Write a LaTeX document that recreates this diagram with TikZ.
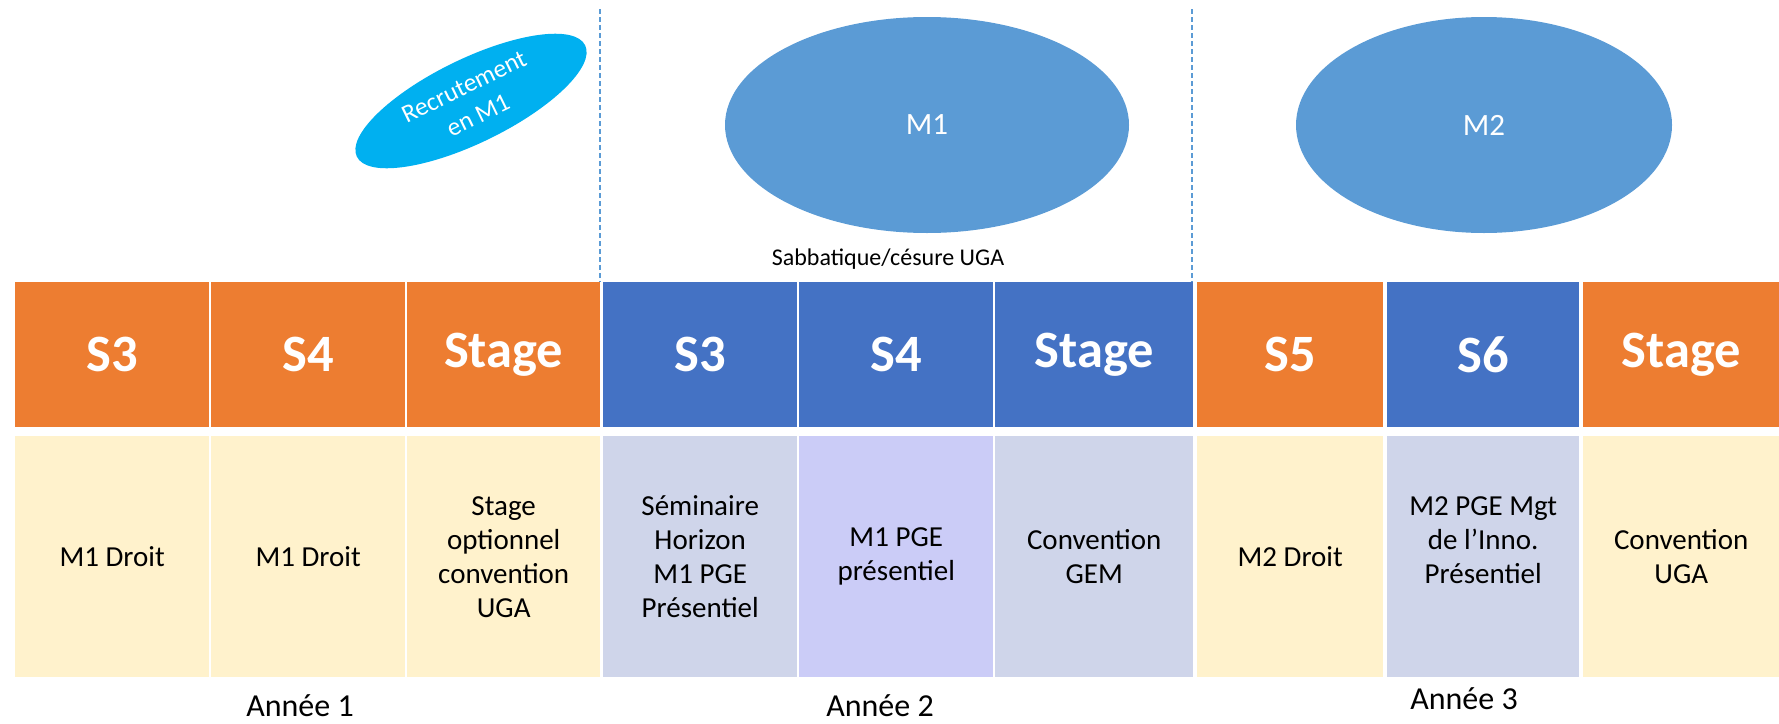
\documentclass[tikz,border=0pt]{standalone}
\usepackage{fontspec}
\setmainfont{Carlito}
\usetikzlibrary{shapes.geometric}
\definecolor{orng}{HTML}{ED7D31}
\definecolor{blu}{HTML}{4472C4}
\definecolor{yel}{HTML}{FFF2CC}
\definecolor{gry}{HTML}{CFD5EA}
\definecolor{lav}{HTML}{CBCCF7}
\definecolor{ell}{HTML}{5B9BD5}
\definecolor{cyanb}{HTML}{00B0F0}
\begin{document}
\begin{tikzpicture}[x=1pt,y=-1pt,
  sem/.style={rectangle, inner sep=0pt, anchor=north west, minimum height=145pt, text=white, font=\fontsize{52.5}{60}\selectfont\bfseries},
  cnt/.style={rectangle, inner sep=0pt, anchor=north west, minimum height=241pt, align=center, text=black, font=\fontsize{29}{34}\selectfont},
  yearlbl/.style={inner sep=0pt, text=black, font=\fontsize{32}{36}\selectfont},
  bigell/.style={ellipse, fill=ell, inner sep=0pt, text=white, font=\fontsize{31}{36}\selectfont},
  sepline/.style={draw=ell, line width=1.2pt, dash pattern=on 5pt off 3pt}]
\useasboundingbox (0,0) rectangle (1779,723);

% dashed separators
\coordinate (d1a) at (600,9);
\coordinate (d1b) at (600,282);
\coordinate (d2a) at (1192,9);
\coordinate (d2b) at (1192,282);
\draw[sepline] (d1a) -- (d1b);
\draw[sepline] (d2a) -- (d2b);

% ellipses
\node[ellipse, fill=cyanb, minimum width=254pt, minimum height=84pt, inner sep=0pt,
      rotate=26, text=white, align=center, font=\fontsize{25.5}{32}\selectfont] (rec) at (471,101) {Recrutement\\en M1};
\node[bigell, minimum width=404pt, minimum height=216pt] (m1) at (927,125) {M1};
\node[bigell, minimum width=376pt, minimum height=216pt] (m2) at (1484,125) {M2};
\node[inner sep=0pt, text=black, font=\fontsize{24}{29}\selectfont] (sab) at (888,259) {Sabbatique/césure UGA};

% top row
\node[sem, fill=orng, minimum width=194pt] (t1) at (15,282) {S3};
\node[sem, fill=orng, minimum width=194pt] (t2) at (211,282) {S4};
\node[sem, fill=orng, minimum width=193pt] (t3) at (407,282) {Stage};
\node[sem, fill=blu, minimum width=194pt] (t4) at (603,282) {S3};
\node[sem, fill=blu, minimum width=194pt] (t5) at (799,282) {S4};
\node[sem, fill=blu, minimum width=198pt] (t6) at (995,282) {Stage};
\node[sem, fill=orng, minimum width=186pt] (t7) at (1197,282) {S5};
\node[sem, fill=blu, minimum width=192pt] (t8) at (1387,282) {S6};
\node[sem, fill=orng, minimum width=196pt] (t9) at (1583,282) {Stage};

% bottom row
\node[cnt, fill=yel, minimum width=194pt] (b1) at (15,436) {M1 Droit};
\node[cnt, fill=yel, minimum width=194pt] (b2) at (211,436) {M1 Droit};
\node[cnt, fill=yel, minimum width=193pt] (b3) at (407,436) {Stage\\optionnel\\convention\\UGA};
\node[cnt, fill=gry, minimum width=194pt] (b4) at (603,436) {Séminaire\\Horizon\\M1 PGE\\Présentiel};
\node[cnt, fill=lav, minimum width=194pt] (b5) at (799,436) {M1 PGE\\présentiel};
\node[cnt, fill=gry, minimum width=198pt] (b6) at (995,436) {Convention\\GEM};
\node[cnt, fill=yel, minimum width=186pt] (b7) at (1197,436) {M2 Droit};
\node[cnt, fill=gry, minimum width=192pt] (b8) at (1387,436) {M2 PGE Mgt\\de l’Inno.\\Présentiel\\\phantom{x}};
\node[cnt, fill=yel, minimum width=196pt] (b9) at (1583,436) {Convention\\UGA};

% year labels
\node[yearlbl] (y1) at (300,706) {Année 1};
\node[yearlbl] (y2) at (880,706) {Année 2};
\node[yearlbl] (y3) at (1464,699) {Année 3};
\end{tikzpicture}
\end{document}
